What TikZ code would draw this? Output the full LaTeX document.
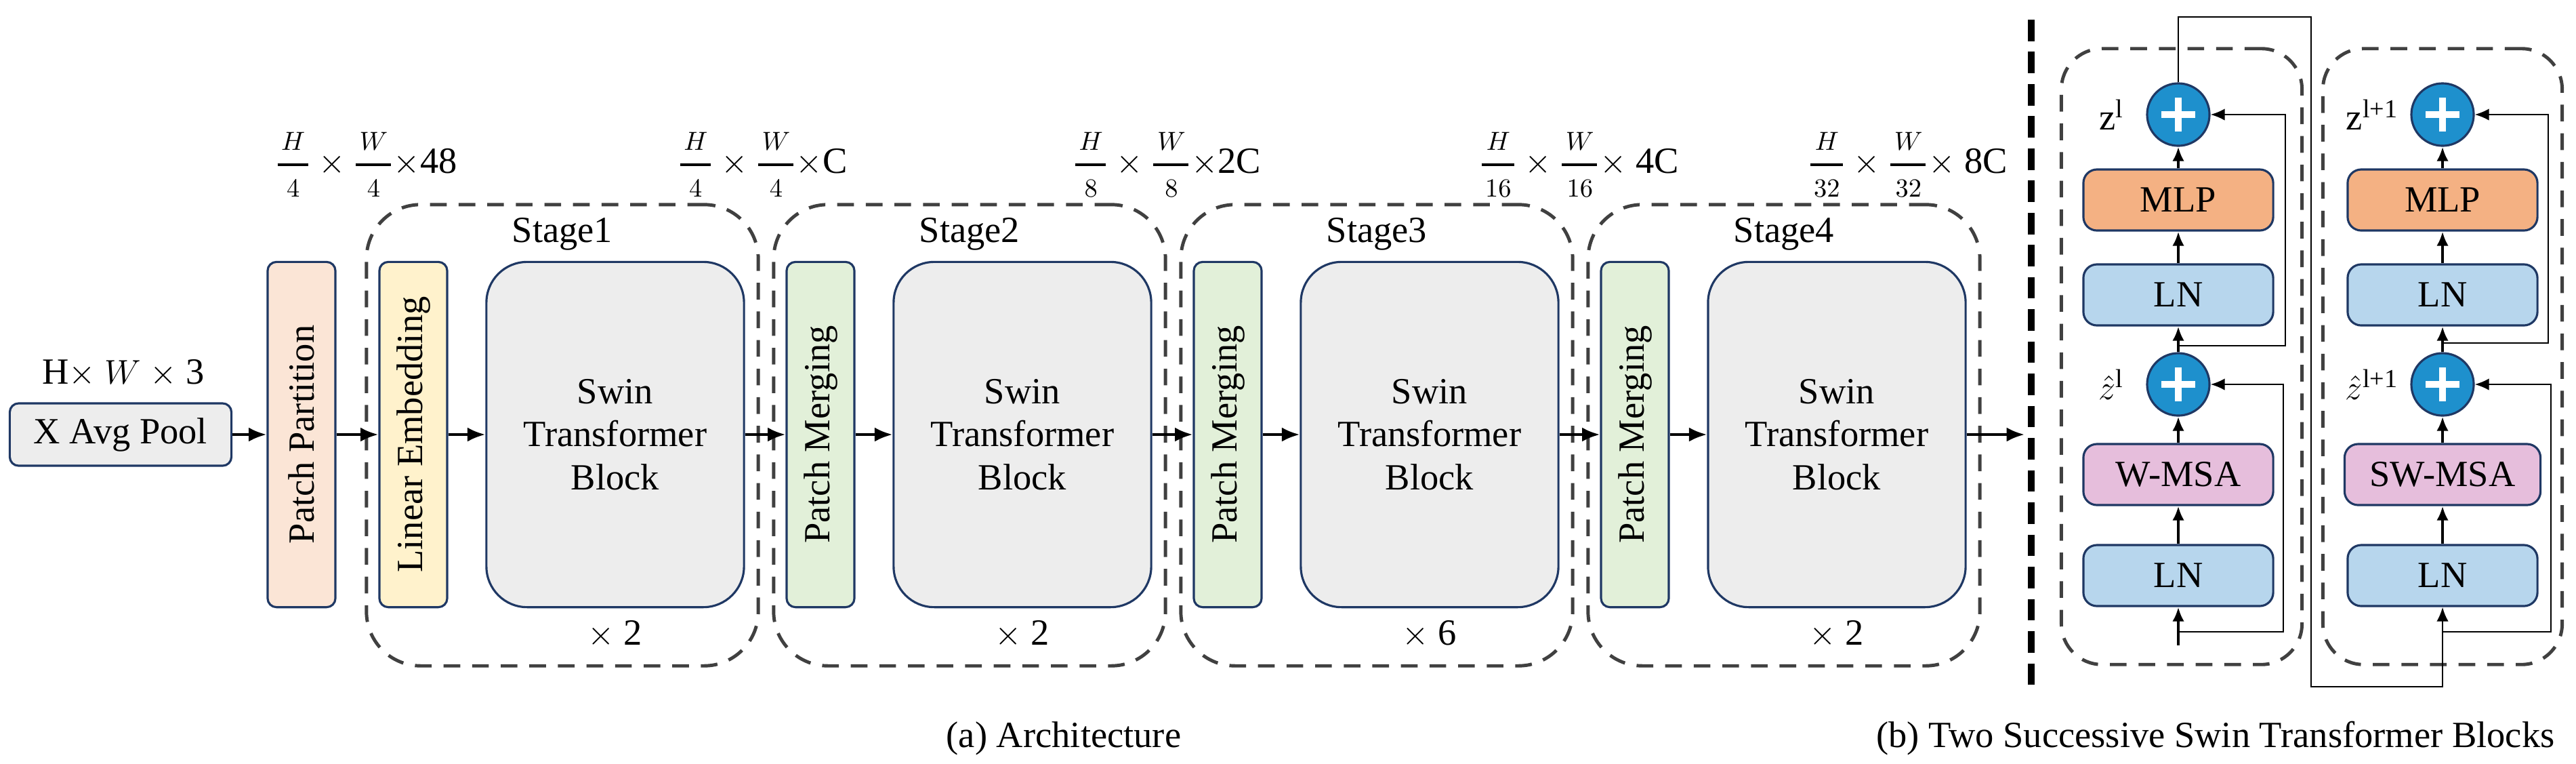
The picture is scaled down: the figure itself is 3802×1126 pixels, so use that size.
\documentclass[tikz,border=0pt]{standalone}
\usepackage{amsmath}
\usepackage{fontspec}
\setmainfont{Liberation Serif}
\usetikzlibrary{shapes,arrows.meta,positioning}
\usepackage{color}

\definecolor{navy}{RGB}{31,56,100}
\definecolor{blkgray}{RGB}{237,237,237}
\definecolor{peach}{RGB}{251,229,214}
\definecolor{paleyellow}{RGB}{255,242,204}
\definecolor{palegreen}{RGB}{226,240,217}
\definecolor{dashgray}{RGB}{64,64,64}
\definecolor{mlporange}{RGB}{244,177,131}
\definecolor{lnblue}{RGB}{183,214,237}
\definecolor{msapink}{RGB}{230,190,220}
\definecolor{addblue}{RGB}{30,144,205}

\newcommand{\dimfrac}[2]{\genfrac{}{}{1.1pt}{0}{\mkern2mu\scriptstyle #1\mkern2mu}{\mkern2mu\scriptstyle #2\mkern2mu}}

\tikzset{
  flowbox/.style={draw=navy,line width=0.9pt,rectangle,rounded corners=0.13cm},
  slabbox/.style={flowbox,minimum width=5.09cm,minimum height=1cm,rotate=90},
  swinbox/.style={draw=navy,line width=0.9pt,rectangle,rounded corners=0.6cm,fill=blkgray,
    minimum width=3.8cm,minimum height=5.09cm,align=center},
  stagebox/.style={draw=dashgray,line width=1.4pt,dash pattern=on 7pt off 5pt,
    rounded corners=0.8cm,rectangle,minimum width=5.78cm,minimum height=6.8cm},
  blockbox/.style={draw=dashgray,line width=1.4pt,dash pattern=on 7pt off 5pt,
    rounded corners=0.6cm,rectangle,minimum height=9.08cm},
  layerbox/.style={draw=navy,line width=0.9pt,rectangle,rounded corners=0.2cm,
    minimum width=2.8cm,minimum height=0.9cm},
  addnode/.style={circle,draw=navy,line width=0.9pt,fill=addblue,minimum size=0.92cm,inner sep=0pt,
    path picture={\draw[white,line width=2.6pt]
      ([xshift=-0.25cm]path picture bounding box.center) -- ([xshift=0.25cm]path picture bounding box.center)
      ([yshift=-0.25cm]path picture bounding box.center) -- ([yshift=0.25cm]path picture bounding box.center);}},
  flowarrow/.style={-{Latex[length=7.5pt,width=6pt]},line width=1.2pt},
  colarrow/.style={->,line width=1.1pt},
  skipline/.style={->,line width=0.7pt},
}

\begin{document}
\begin{tikzpicture}[x=0.01cm,y=-0.01cm,>={Latex[length=6pt,width=5pt]},
  font=\fontsize{15.5pt}{18pt}\selectfont]

  \useasboundingbox (0,0) rectangle (3802,1126);

  \node[flowbox,fill=blkgray,minimum width=3.27cm,minimum height=0.92cm] at (178,641) (pool) {X Avg Pool};
  \node at (182,551) (in-dim) {H$\times$ $W$ $\times$ 3};
  \node[slabbox,fill=peach] at (445,641) (pp) {Patch Partition};
  \node at (540,243) (dim0) {$\dimfrac{H}{4}\times\dimfrac{W}{4}\times$48};

  \node[stagebox] at (830,642) (st1) {};
  \node at (830,345) (st1-t) {Stage1};
  \node[slabbox,fill=paleyellow] at (610,641) (le) {Linear Embedding};
  \node[swinbox] at (908,641) (sw1) {Swin\\Transformer\\Block};
  \node at (908,936) (st1-n) {$\times$ 2};
  \node at (1125,243) (dim1) {$\dimfrac{H}{4}\times\dimfrac{W}{4}\times$C};

  \node[stagebox] at (1431,642) (st2) {};
  \node at (1431,345) (st2-t) {Stage2};
  \node[slabbox,fill=palegreen] at (1211,641) (pm2) {Patch Merging};
  \node[swinbox] at (1509,641) (sw2) {Swin\\Transformer\\Block};
  \node at (1509,936) (st2-n) {$\times$ 2};
  \node at (1722,243) (dim2) {$\dimfrac{H}{8}\times\dimfrac{W}{8}\times$2C};

  \node[stagebox] at (2032,642) (st3) {};
  \node at (2032,345) (st3-t) {Stage3};
  \node[slabbox,fill=palegreen] at (1812,641) (pm3) {Patch Merging};
  \node[swinbox] at (2110,641) (sw3) {Swin\\Transformer\\Block};
  \node at (2110,936) (st3-n) {$\times$ 6};
  \node at (2330,243) (dim3) {$\dimfrac{H}{16}\times\dimfrac{W}{16}\times$ 4C};

  \node[stagebox] at (2633,642) (st4) {};
  \node at (2633,345) (st4-t) {Stage4};
  \node[slabbox,fill=palegreen] at (2413,641) (pm4) {Patch Merging};
  \node[swinbox] at (2711,641) (sw4) {Swin\\Transformer\\Block};
  \node at (2711,936) (st4-n) {$\times$ 2};
  \node at (2815,243) (dim4) {$\dimfrac{H}{32}\times\dimfrac{W}{32}\times$ 8C};

  \draw[flowarrow] (pool) -- (pp); \draw[flowarrow] (pp) -- (le);
  \draw[flowarrow] (le) -- (sw1); \draw[flowarrow] (sw1) -- (pm2);
  \draw[flowarrow] (pm2) -- (sw2); \draw[flowarrow] (sw2) -- (pm3);
  \draw[flowarrow] (pm3) -- (sw3); \draw[flowarrow] (sw3) -- (pm4);
  \draw[flowarrow] (pm4) -- (sw4);

  \coordinate (sep-top) at (2998,29);
  \coordinate (sep-bot) at (2998,1013);
  \coordinate (out) at (2988,641);
  \draw[line width=3pt,dash pattern=on 9pt off 4.5pt] (sep-top) -- (sep-bot);
  \draw[flowarrow] (sw4) -- (out);

  \node[blockbox,minimum width=3.55cm] at (3220,526) (blk-a) {};
  \node[blockbox,minimum width=3.53cm] at (3605,526) (blk-b) {};

  \node[layerbox,fill=lnblue] at (3215,849) (a-ln1) {LN};
  \node[layerbox,fill=msapink] at (3215,700) (a-msa) {W-MSA};
  \node[addnode] at (3215,567) (a-add1) {};
  \node[layerbox,fill=lnblue] at (3215,435) (a-ln2) {LN};
  \node[layerbox,fill=mlporange] at (3215,295) (a-mlp) {MLP};
  \node[addnode] at (3215,169) (a-add2) {};
  \node[left=0.2cm of a-add1] (a-zh) {$\hat{z}$\textsuperscript{l}};
  \node[left=0.2cm of a-add2] (a-z) {z\textsuperscript{l}};

  \node[layerbox,fill=lnblue] at (3605,849) (b-ln1) {LN};
  \node[layerbox,fill=msapink,minimum width=2.89cm] at (3605,700) (b-msa) {SW-MSA};
  \node[addnode] at (3605,567) (b-add1) {};
  \node[layerbox,fill=lnblue] at (3605,435) (b-ln2) {LN};
  \node[layerbox,fill=mlporange] at (3605,295) (b-mlp) {MLP};
  \node[addnode] at (3605,169) (b-add2) {};
  \node[left=0.05cm of b-add1] (b-zh) {$\hat{z}$\textsuperscript{l+1}};
  \node[left=0.05cm of b-add2] (b-z) {z\textsuperscript{l+1}};

  \coordinate (a-in) at (3215,952);
  \coordinate (a-br1) at (3215,932);
  \coordinate (a-br2) at (3215,510);
  \draw[colarrow] (a-in) -- (a-ln1); \draw[colarrow] (a-ln1) -- (a-msa);
  \draw[colarrow] (a-msa) -- (a-add1); \draw[colarrow] (a-add1) -- (a-ln2);
  \draw[colarrow] (a-ln2) -- (a-mlp); \draw[colarrow] (a-mlp) -- (a-add2);
  \draw[skipline] (a-br1) -- ++(155,0) |- (a-add1.east);
  \draw[skipline] (a-br2) -- ++(158,0) |- (a-add2.east);

  \coordinate (link-t) at (3411,25);
  \coordinate (link-b) at (3411,1013);
  \draw[skipline] (a-add2.north) |- (link-t) -- (link-b) -| (b-ln1.south);

  \coordinate (b-br1) at (3605,932);
  \coordinate (b-br2) at (3605,506);
  \draw[colarrow] (b-ln1) -- (b-msa); \draw[colarrow] (b-msa) -- (b-add1);
  \draw[colarrow] (b-add1) -- (b-ln2); \draw[colarrow] (b-ln2) -- (b-mlp);
  \draw[colarrow] (b-mlp) -- (b-add2);
  \draw[skipline] (b-br1) -- ++(160,0) |- (b-add1.east);
  \draw[skipline] (b-br2) -- ++(156,0) |- (b-add2.east);

  \node at (1570,1089) (cap-a) {(a) Architecture};
  \node at (3270,1089) (cap-b) {(b) Two Successive Swin Transformer Blocks};

\end{tikzpicture}
\end{document}
